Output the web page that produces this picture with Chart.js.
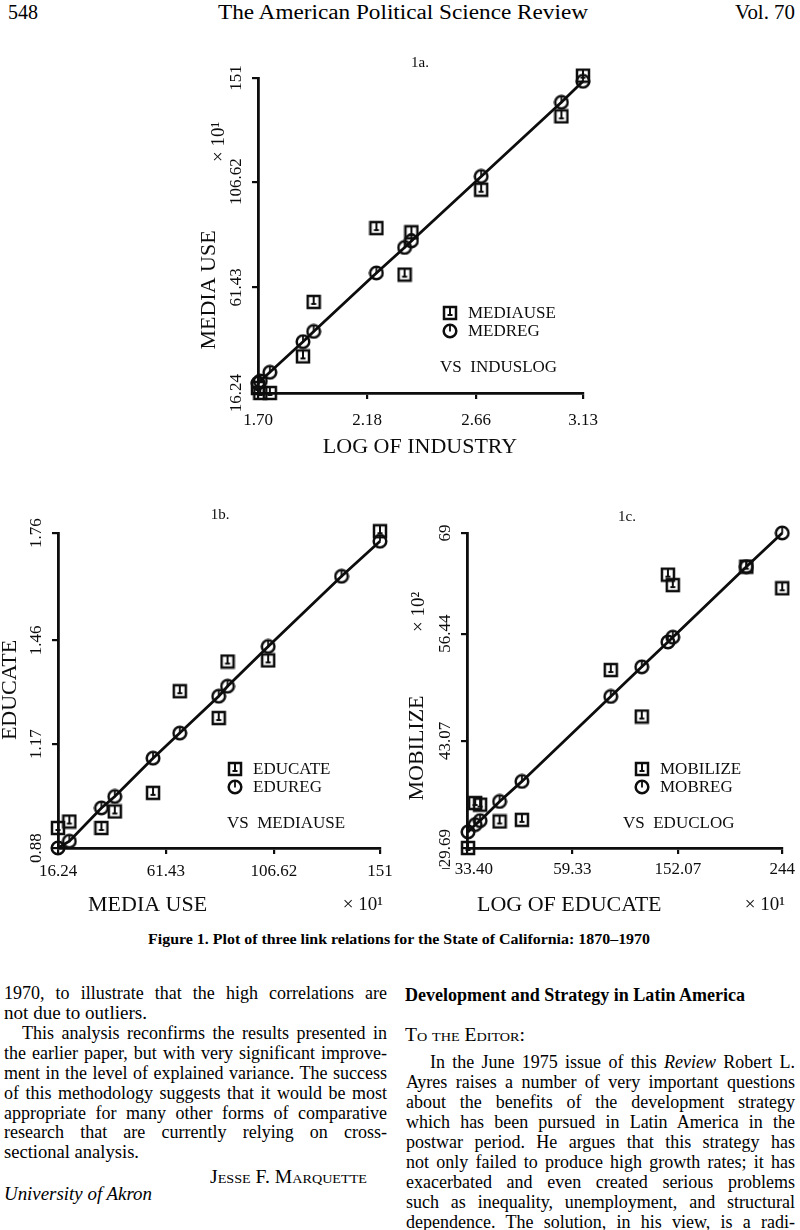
<!DOCTYPE html>
<html>
<head>
<meta charset="utf-8">
<script src="https://cdn.jsdelivr.net/npm/chart.js@4.4.1/dist/chart.umd.min.js"></script>
<style>
  html, body { margin: 0; padding: 0; background: #fff; }
  #page { position: relative; width: 800px; height: 1230px; overflow: hidden; color: #000;
          font-family: "Liberation Serif", "Times New Roman", serif; }
  canvas { position: absolute; }
  .t { position: absolute; white-space: nowrap; line-height: 1; font-size: 18px; transform-origin: 0 50%; }
  .hd { font-size: 20px; }
  .cap { font-size: 15px; font-weight: bold; }
  .b { font-weight: bold; }
  .sc { font-variant: small-caps; }
  .it { font-style: italic; }
</style>
</head>
<body>
<div id="page">
  <div class="t hd" data-x="8" data-y="12" data-w="30">548</div>
  <div class="t hd" data-x="218" data-y="12" data-w="370">The American Political Science Review</div>
  <div class="t hd" data-x="735" data-y="12" data-w="60">Vol. 70</div>

  <canvas id="c1" width="450" height="420" style="left:170px;top:50px"></canvas>
  <canvas id="c2" width="400" height="420" style="left:0px;top:500px"></canvas>
  <canvas id="c3" width="400" height="420" style="left:400px;top:500px"></canvas>

  <div class="t cap" data-x="148" data-y="939" data-w="502">Figure 1. Plot of three link relations for the State of California: 1870–1970</div>

  <div class="t" data-x="4" data-y="993" data-w="383" data-j="1">1970, to illustrate that the high correlations are</div>
  <div class="t" data-x="4" data-y="1013" data-w="143">not due to outliers.</div>
  <div class="t" data-x="22" data-y="1033" data-w="365" data-j="1">This analysis reconfirms the results presented in</div>
  <div class="t" data-x="4" data-y="1053" data-w="383" data-j="1">the earlier paper, but with very significant improve-</div>
  <div class="t" data-x="4" data-y="1073" data-w="383" data-j="1">ment in the level of explained variance. The success</div>
  <div class="t" data-x="4" data-y="1093" data-w="383" data-j="1">of this methodology suggests that it would be most</div>
  <div class="t" data-x="4" data-y="1113" data-w="383" data-j="1">appropriate for many other forms of comparative</div>
  <div class="t" data-x="4" data-y="1132" data-w="383" data-j="1">research that are currently relying on cross-</div>
  <div class="t" data-x="4" data-y="1152" data-w="135">sectional analysis.</div>
  <div class="t sc" data-x="210" data-y="1177" data-w="157">Jesse F. Marquette</div>
  <div class="t it" data-x="4" data-y="1194" data-w="148">University of Akron</div>

  <div class="t b" data-x="405" data-y="995" data-w="340">Development and Strategy in Latin America</div>
  <div class="t sc" data-x="405" data-y="1035" data-w="120">To the Editor:</div>
  <div class="t" data-x="430" data-y="1062" data-w="365" data-j="1">In the June 1975 issue of this <i>Review</i> Robert L.</div>
  <div class="t" data-x="406" data-y="1082" data-w="389" data-j="1">Ayres raises a number of very important questions</div>
  <div class="t" data-x="406" data-y="1102" data-w="389" data-j="1">about the benefits of the development strategy</div>
  <div class="t" data-x="406" data-y="1122" data-w="389" data-j="1">which has been pursued in Latin America in the</div>
  <div class="t" data-x="406" data-y="1142" data-w="389" data-j="1">postwar period. He argues that this strategy has</div>
  <div class="t" data-x="406" data-y="1162" data-w="389" data-j="1">not only failed to produce high growth rates; it has</div>
  <div class="t" data-x="406" data-y="1182" data-w="389" data-j="1">exacerbated and even created serious problems</div>
  <div class="t" data-x="406" data-y="1202" data-w="389" data-j="1">such as inequality, unemployment, and structural</div>
  <div class="t" data-x="406" data-y="1222" data-w="389" data-j="1">dependence. The solution, in his view, is a radi-</div>
</div>

<script>
// 1a: media use vs log of industry
const indusLog = [1.700, 1.710, 1.752, 1.898, 1.945, 2.221, 2.345, 2.375, 2.682, 3.035, 3.130];
const mediaUse = [18.4, 16.24, 16.24, 31.9, 55.2, 86.8, 66.9, 85.0, 103.2, 134.6, 152.0];
const medReg   = [20.5, 21.4, 25.1, 38.2, 42.6, 67.6, 78.5, 81.3, 108.9, 140.6, 149.6];
const ticks1aX = ['1.70', '2.18', '2.66', '3.13'];
const ticks1aY = ['16.24', '61.43', '106.62', '151'];

// 1b: educate vs media use (no square visible at x = 134.9)
const mediaUseB = [16.24, 21.0, 34.4, 40.0, 56.0, 67.2, 83.5, 87.2, 104.2, 134.9, 151.0];
const educate   = [0.936, 0.954, 0.936, 0.982, 1.034, 1.318, 1.243, 1.401, 1.404, null, 1.765];
const eduReg    = [0.880, 0.899, 0.992, 1.024, 1.131, 1.201, 1.304, 1.332, 1.443, 1.639, 1.737];
const ticks1bX = ['16.24', '61.43', '106.62', '151'];
const ticks1bY = ['0.88', '1.17', '1.46', '1.76'];

// 1c: mobilize vs log of educate
const educLog  = [-32.5, -26.2, -21.9, -4.7, 14.9, 93.1, 120.4, 143.4, 147.7, 212.4, 244.0];
const mobilize = [29.69, 35.3, 35.1, 33.0, 33.2, 51.9, 46.1, 63.8, 62.5, 64.8, 62.1];
const mobReg   = [31.7, 32.6, 33.1, 35.5, 38.0, 48.6, 52.3, 55.4, 56.0, 64.8, 69.0];
const ticks1cX = ['\u2212 33.40', '59.33', '152.07', '244'];
const ticks1cY = ['29.69', '43.07', '56.44', '69'];

const INK = '#0d0d0d';
const FONT = '"Liberation Serif", "Times New Roman", serif';

// plot symbols: square with a short stem, circle with a short stem
function marker(kind) {
  const c = document.createElement('canvas');
  c.width = 16; c.height = 16;
  const g = c.getContext('2d');
  g.strokeStyle = INK;
  g.lineWidth = 2.5;
  if (kind === 'sq') {
    g.strokeRect(2, 2, 12, 12);
    g.lineWidth = 2;
    g.beginPath(); g.moveTo(8, 3); g.lineTo(8, 10); g.moveTo(5.5, 10); g.lineTo(10.5, 10); g.stroke();
  } else {
    g.beginPath(); g.arc(8, 8, 6.3, 0, Math.PI * 2); g.stroke();
    g.lineWidth = 1.8;
    g.beginPath(); g.moveTo(8, 2); g.lineTo(8, 8.5); g.stroke();
  }
  return c;
}
const sqImg = marker('sq');
const ciImg = marker('ci');

const pts = (xs, ys) => xs.map((x, i) => ({ x: x, y: ys[i] }));

// rotated y tick labels, titles and the in-plot legend
const paperText = {
  id: 'paperText',
  afterDraw(chart, args, o) {
    const { ctx } = chart;
    const ys = chart.scales.y;
    ctx.save();
    ctx.fillStyle = INK;
    ctx.textBaseline = 'middle';
    ctx.textAlign = 'center';
    ctx.font = '17px ' + FONT;
    ys.ticks.forEach((t, i) => {
      ctx.save();
      ctx.translate(o.yTickX, ys.getPixelForValue(t.value));
      ctx.rotate(-Math.PI / 2);
      ctx.fillText(o.yLabels[i], 0, 0);
      ctx.restore();
    });
    o.texts.forEach(t => {
      ctx.save();
      ctx.font = t.size + 'px ' + FONT;
      ctx.textAlign = t.align || 'center';
      ctx.translate(t.x, t.y);
      if (t.rot) ctx.rotate(-Math.PI / 2);
      ctx.fillText(t.s, 0, 0);
      ctx.restore();
    });
    const lg = o.legend;
    ctx.drawImage(sqImg, lg.x - 8, lg.y - 8);
    ctx.drawImage(ciImg, lg.x - 8, lg.y + 18 - 8);
    ctx.font = '17px ' + FONT;
    ctx.textAlign = 'left';
    ctx.fillText(lg.a, lg.x + 18, lg.y + 1);
    ctx.fillText(lg.b, lg.x + 18, lg.y + 19);
    ctx.fillText(lg.vs, lg.vx, lg.y + 55);
    ctx.restore();
  }
};

function makePanel(id, cfg) {
  const xVals = cfg.xLabels.map(Number.parseFloat);
  const yVals = cfg.yLabels.map(Number.parseFloat);
  xVals[0] = cfg.xMin;
  const axis = (vals, size, isX) => ({
    type: 'linear',
    min: vals[0],
    max: vals[vals.length - 1],
    afterBuildTicks: s => { s.ticks = vals.map(v => ({ value: v })); },
    afterFit: s => { if (isX) s.height = size; else s.width = size; },
    border: { display: true, color: INK, width: 2.8 },
    grid: { display: true, drawOnChartArea: false, drawTicks: true, tickLength: 6, color: INK, lineWidth: 2.2 },
    ticks: isX
      ? { color: INK, padding: cfg.xPad, maxRotation: 0, autoSkip: false,
          font: { family: FONT, size: 17 }, callback: (v, i) => cfg.xLabels[i] }
      : { display: false }
  });
  return new Chart(document.getElementById(id), {
    type: 'scatter',
    data: {
      datasets: [
        { label: cfg.names[0], data: pts(cfg.x, cfg.actual), pointStyle: sqImg,
          showLine: false, clip: false, order: 1 },
        { label: cfg.names[1], data: pts(cfg.x, cfg.fitted), pointStyle: ciImg,
          showLine: true, borderColor: INK, borderWidth: 2.8, clip: false, order: 2 }
      ]
    },
    options: {
      responsive: false,
      animation: false,
      events: [],
      layout: { padding: cfg.pad },
      scales: { x: axis(xVals, cfg.xH, true), y: axis(yVals, cfg.yW, false) },
      plugins: {
        legend: { display: false },
        tooltip: { enabled: false },
        paperText: cfg.text
      }
    },
    plugins: [paperText]
  });
}

// canvas c1 sits at page (170, 50)
makePanel('c1', {
  x: indusLog, actual: mediaUse, fitted: medReg, names: ['MEDIAUSE', 'MEDREG'],
  xLabels: ticks1aX, yLabels: ticks1aY, xMin: 1.70,
  pad: { top: 28, right: 37, left: 0, bottom: 0 }, yW: 88, xH: 77, xPad: 11,
  text: {
    yLabels: ticks1aY, yTickX: 67,
    texts: [
      { s: '1a.', x: 250, y: 13, size: 15 },
      { s: 'MEDIA USE', x: 39, y: 240, size: 22, rot: true },
      { s: '\u00d7 10\u00b9', x: 49, y: 92, size: 19, rot: true },
      { s: 'LOG OF INDUSTRY', x: 250, y: 397, size: 22 }
    ],
    legend: { x: 280, y: 263, a: 'MEDIAUSE', b: 'MEDREG', vs: 'VS  INDUSLOG', vx: 270 }
  }
});

// canvas c2 sits at page (0, 500)
makePanel('c2', {
  x: mediaUseB, actual: educate, fitted: eduReg, names: ['EDUCATE', 'EDUREG'],
  xLabels: ticks1bX, yLabels: ticks1bY, xMin: 16.24,
  pad: { top: 33, right: 20, left: 0, bottom: 0 }, yW: 58, xH: 72, xPad: 7,
  text: {
    yLabels: ticks1bY, yTickX: 37,
    texts: [
      { s: '1b.', x: 220, y: 15, size: 15 },
      { s: 'EDUCATE', x: 10, y: 190, size: 22, rot: true },
      { s: 'MEDIA USE', x: 88, y: 405, size: 22, align: 'left' },
      { s: '\u00d7 10\u00b9', x: 383, y: 405, size: 19, align: 'right' }
    ],
    legend: { x: 235, y: 269, a: 'EDUCATE', b: 'EDUREG', vs: 'VS  MEDIAUSE', vx: 227 }
  }
});

// canvas c3 sits at page (400, 500)
makePanel('c3', {
  x: educLog, actual: mobilize, fitted: mobReg, names: ['MOBILIZE', 'MOBREG'],
  xLabels: ticks1cX, yLabels: ticks1cY, xMin: -33.40,
  pad: { top: 33, right: 12, left: 0, bottom: 0 }, yW: 67, xH: 72, xPad: 5,
  text: {
    yLabels: ticks1cY, yTickX: 46,
    texts: [
      { s: '1c.', x: 227, y: 17, size: 15 },
      { s: 'MOBILIZE', x: 17, y: 248, size: 22, rot: true },
      { s: '\u00d7 10\u00b2', x: 19, y: 112, size: 19, rot: true },
      { s: 'LOG OF EDUCATE', x: 77, y: 405, size: 22, align: 'left' },
      { s: '\u00d7 10\u00b9', x: 385, y: 405, size: 19, align: 'right' }
    ],
    legend: { x: 242, y: 269, a: 'MOBILIZE', b: 'MOBREG', vs: 'VS  EDUCLOG', vx: 223 }
  }
});

// place the page text and stretch each line to its measured width
function fitText() {
  document.querySelectorAll('.t').forEach(el => {
    const size = parseFloat(getComputedStyle(el).fontSize);
    el.style.left = el.dataset.x + 'px';
    el.style.top = (el.dataset.y - size * 0.5) + 'px';
    el.style.transform = 'none';
    el.style.wordSpacing = '0px';
    const target = +el.dataset.w;
    const nat = el.getBoundingClientRect().width;
    const gaps = (el.textContent.match(/ /g) || []).length;
    if (el.dataset.j && nat < target && gaps) {
      el.style.wordSpacing = ((target - nat) / gaps) + 'px';
    } else {
      el.style.transform = 'scaleX(' + (target / nat) + ')';
    }
  });
}
fitText();
if (document.fonts) document.fonts.ready.then(fitText);
</script>
</body>
</html>
